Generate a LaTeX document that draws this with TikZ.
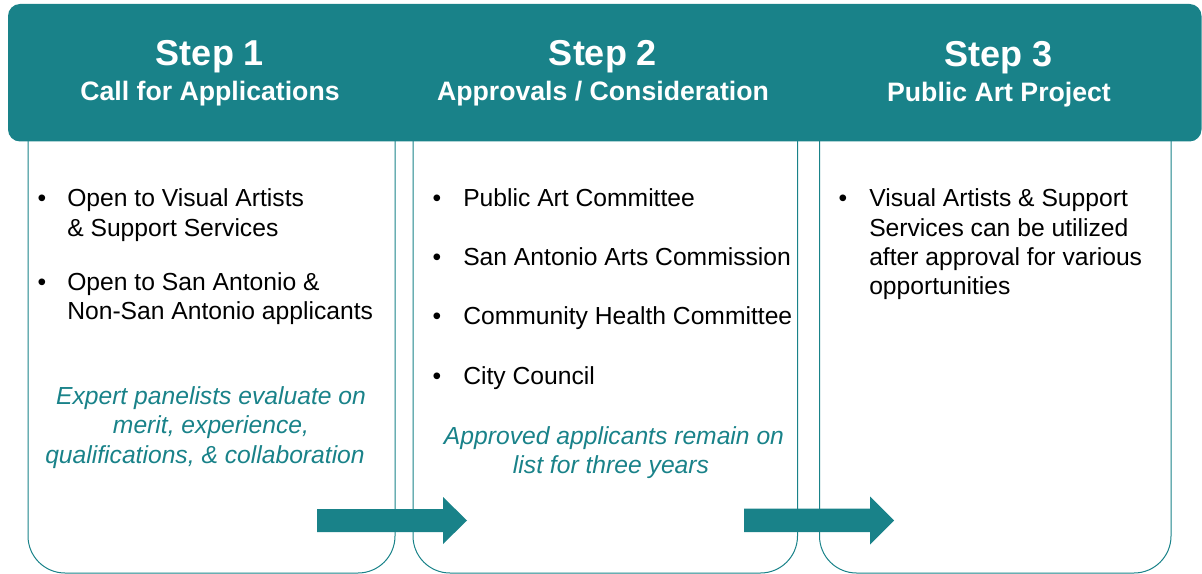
\documentclass[tikz,border=0pt]{standalone}
\usepackage{fontspec}
\setmainfont{Liberation Sans}
\definecolor{sateal}{RGB}{25,130,137}
\tikzstyle{header}=[fill=sateal, rounded corners=9pt]
\tikzstyle{panel}=[draw=sateal, line width=0.75pt, rounded corners=27.75pt]
\tikzstyle{steptitle}=[text=white, font=\fontsize{27}{32}\selectfont\bfseries, inner sep=0pt, anchor=base]
\tikzstyle{stepsub}=[text=white, font=\fontsize{20}{24}\selectfont\bfseries, inner sep=0pt, anchor=base]
\tikzstyle{bulletdot}=[font=\fontsize{18.5}{22}\selectfont, inner sep=0pt, anchor=base]
\tikzstyle{itemtext}=[font=\fontsize{18.5}{22}\selectfont, inner sep=0pt, anchor=base west]
\tikzstyle{note}=[text=sateal, font=\fontsize{18.5}{22}\selectfont\itshape, inner sep=0pt, anchor=base]
\tikzstyle{blockarrow}=[fill=sateal]

\begin{document}
\begin{tikzpicture}[x=0.75pt,y=-0.75pt]
      \useasboundingbox (0,0) rectangle (1202,574);
      % columns
      \draw[panel] (28,141) -- (28,573) -- (395,573) -- (395,141);
      \draw[panel] (413,141) -- (413,573) -- (797.5,573) -- (797.5,141);
      \draw[panel] (819.5,141) -- (819.5,573) -- (1171,573) -- (1171,141);
      % header band
      \fill[header] (8,4) rectangle (1201.5,141.5);
      \node[steptitle] at (210,66) (s1) {Step 1};
      \node[stepsub] at (210,101) (s1sub) {Call for Applications};
      \node[steptitle] at (603,66) (s2) {Step 2};
      \node[stepsub] at (603,100.5) (s2sub) {Approvals / Consideration};
      \node[steptitle] at (998.5,67) (s3) {Step 3};
      \node[stepsub] at (999,102) (s3sub) {Public Art Project};
      % step 1
      \node[bulletdot] at (42,206.5) (b1a) {•};
      \node[itemtext] at (67,206.5) (t1a) {Open to Visual Artists};
      \node[itemtext] at (67,236) (t1b) {\& Support Services};
      \node[bulletdot] at (42,290.5) (b1b) {•};
      \node[itemtext] at (67,290.5) (t1c) {Open to San Antonio \&};
      \node[itemtext] at (67,319.5) (t1d) {Non-San Antonio applicants};
      \node[note] at (211,404) (n1a) {Expert panelists evaluate on};
      \node[note] at (211,433.5) (n1b) {merit, experience,};
      \node[note] at (205,463) (n1c) {qualifications, \& collaboration};
      % step 2
      \node[bulletdot] at (437,206) (b2a) {•};
      \node[itemtext] at (463,206) (t2a) {Public Art Committee};
      \node[bulletdot] at (437,265) (b2b) {•};
      \node[itemtext] at (463,265) (t2b) {San Antonio Arts Commission};
      \node[bulletdot] at (437,324) (b2c) {•};
      \node[itemtext] at (463,324) (t2c) {Community Health Committee};
      \node[bulletdot] at (437,384) (b2d) {•};
      \node[itemtext] at (463,384) (t2d) {City Council};
      \node[note] at (614,444.5) (n2a) {Approved applicants remain on};
      \node[note] at (611,473.5) (n2b) {list for three years};
      % step 3
      \node[bulletdot] at (843,206.5) (b3a) {•};
      \node[itemtext] at (869,206.5) (t3a) {Visual Artists \& Support};
      \node[itemtext] at (869,236) (t3b) {Services can be utilized};
      \node[itemtext] at (869,265) (t3c) {after approval for various};
      \node[itemtext] at (869,294) (t3d) {opportunities};
      % arrows
      \fill[blockarrow] (317,509) -- (443,509) -- (443,497) -- (467,520.5) -- (443,544) -- (443,532) -- (317,532) -- cycle;
      \fill[blockarrow] (744,508.5) -- (870,508.5) -- (870,496.5) -- (894,520.5) -- (870,544.5) -- (870,532) -- (744,532) -- cycle;
    \end{tikzpicture}
\end{document}
